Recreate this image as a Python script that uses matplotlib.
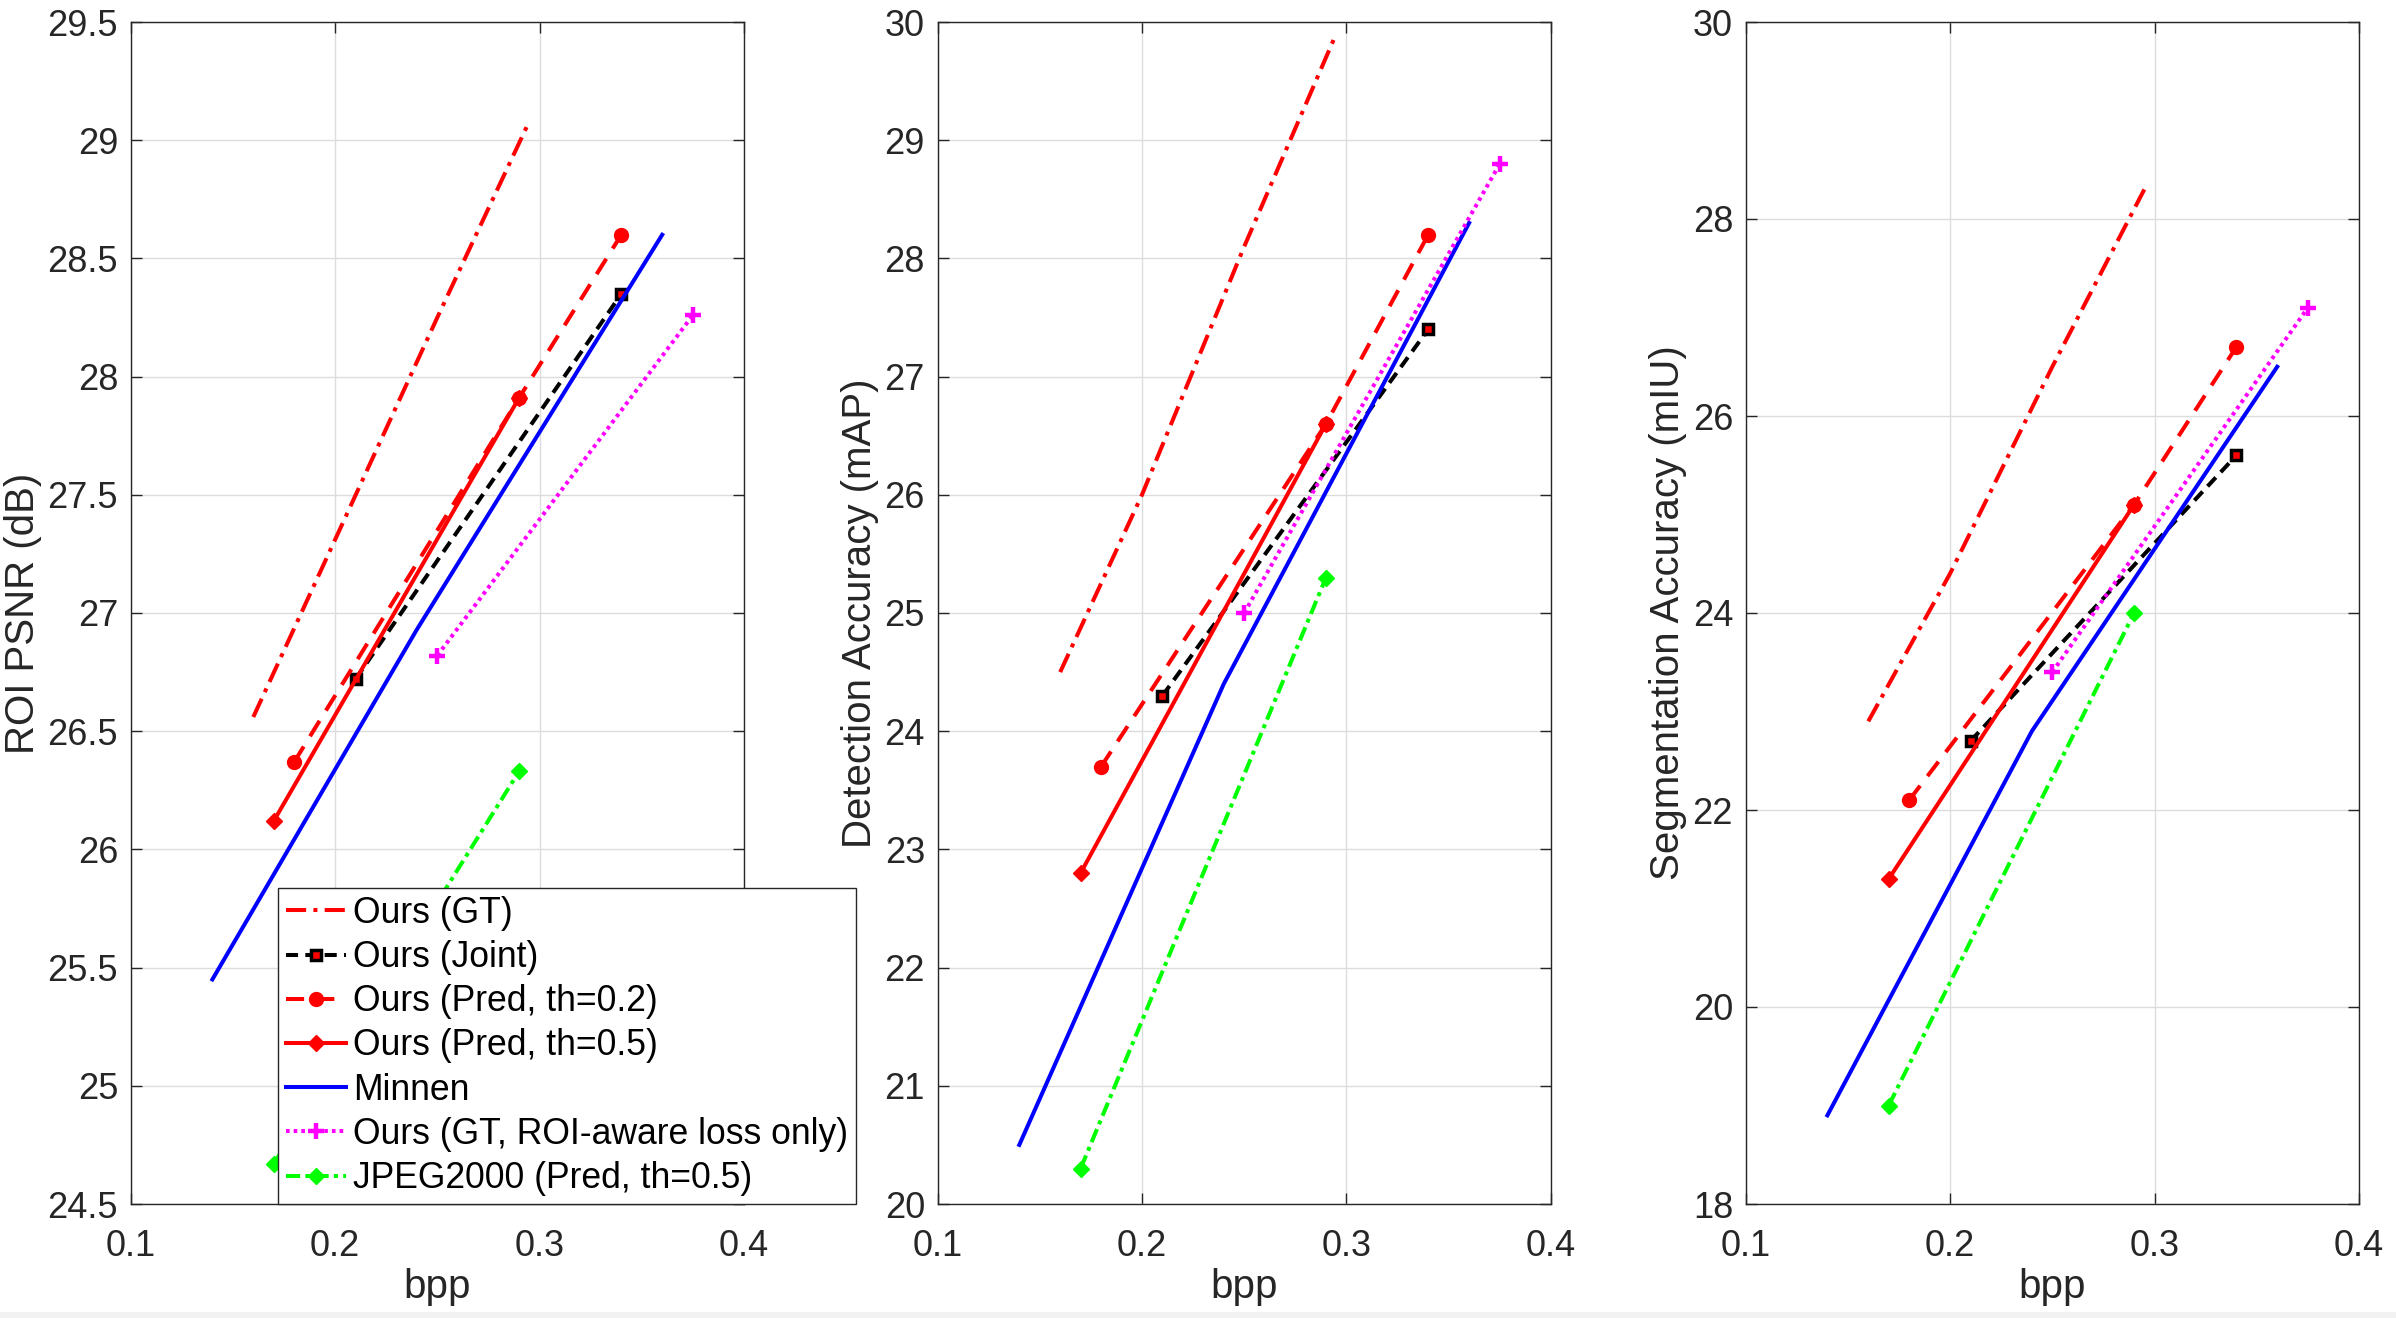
import matplotlib
matplotlib.use("Agg")
import matplotlib.pyplot as plt
from matplotlib.patches import Rectangle

plt.rcParams['font.family'] = ['Liberation Sans', 'DejaVu Sans']

# ---------------- data ----------------
# Panel 1: ROI PSNR (dB)
psnr_gt_x = [0.16, 0.20, 0.25, 0.295]
psnr_gt_y = [26.56, 27.31, 28.25, 29.08]
psnr_joint_x = [0.21, 0.34]
psnr_joint_y = [26.72, 28.35]
psnr_p02_x = [0.18, 0.29, 0.34]
psnr_p02_y = [26.37, 27.91, 28.60]
psnr_p05_x = [0.17, 0.29]
psnr_p05_y = [26.12, 27.91]
psnr_minnen_x = [0.14, 0.24, 0.36]
psnr_minnen_y = [25.45, 26.93, 28.60]
psnr_roi_x = [0.25, 0.375]
psnr_roi_y = [26.82, 28.26]
psnr_jpeg_x = [0.17, 0.29]
psnr_jpeg_y = [24.67, 26.33]

# Panel 2: Detection Accuracy (mAP)
det_gt_x = [0.16, 0.20, 0.25, 0.295]
det_gt_y = [24.50, 26.00, 28.10, 29.90]
det_joint_x = [0.21, 0.34]
det_joint_y = [24.30, 27.40]
det_p02_x = [0.18, 0.29, 0.34]
det_p02_y = [23.70, 26.60, 28.20]
det_p05_x = [0.17, 0.29]
det_p05_y = [22.80, 26.60]
det_minnen_x = [0.14, 0.24, 0.36]
det_minnen_y = [20.50, 24.40, 28.30]
det_roi_x = [0.25, 0.375]
det_roi_y = [25.00, 28.80]
det_jpeg_x = [0.17, 0.29]
det_jpeg_y = [20.30, 25.30]

# Panel 3: Segmentation Accuracy (mIU)
seg_gt_x = [0.16, 0.20, 0.25, 0.295]
seg_gt_y = [22.90, 24.40, 26.50, 28.30]
seg_joint_x = [0.21, 0.34]
seg_joint_y = [22.70, 25.60]
seg_p02_x = [0.18, 0.29, 0.34]
seg_p02_y = [22.10, 25.10, 26.70]
seg_p05_x = [0.17, 0.29]
seg_p05_y = [21.30, 25.10]
seg_minnen_x = [0.14, 0.24, 0.36]
seg_minnen_y = [18.90, 22.80, 26.50]
seg_roi_x = [0.25, 0.375]
seg_roi_y = [23.40, 27.10]
seg_jpeg_x = [0.17, 0.29]
seg_jpeg_y = [19.00, 24.00]

labels = ["Ours (GT)", "Ours (Joint)", "Ours (Pred, th=0.2)", "Ours (Pred, th=0.5)",
          "Minnen", "Ours (GT, ROI-aware loss only)", "JPEG2000 (Pred, th=0.5)"]
ylabels = ["ROI PSNR (dB)", "Detection Accuracy (mAP)", "Segmentation Accuracy (mIU)"]
yticks_list = [[24.5, 25, 25.5, 26, 26.5, 27, 27.5, 28, 28.5, 29, 29.5],
               [20, 21, 22, 23, 24, 25, 26, 27, 28, 29, 30],
               [18, 20, 22, 24, 26, 28, 30]]
yticklabels_list = [["24.5", "25", "25.5", "26", "26.5", "27", "27.5", "28", "28.5", "29", "29.5"],
                    ["20", "21", "22", "23", "24", "25", "26", "27", "28", "29", "30"],
                    ["18", "20", "22", "24", "26", "28", "30"]]
xticks = [0.1, 0.2, 0.3, 0.4]
xticklabels = ["0.1", "0.2", "0.3", "0.4"]

panels = [
    [(psnr_gt_x, psnr_gt_y), (psnr_joint_x, psnr_joint_y), (psnr_p02_x, psnr_p02_y),
     (psnr_p05_x, psnr_p05_y), (psnr_minnen_x, psnr_minnen_y), (psnr_roi_x, psnr_roi_y),
     (psnr_jpeg_x, psnr_jpeg_y)],
    [(det_gt_x, det_gt_y), (det_joint_x, det_joint_y), (det_p02_x, det_p02_y),
     (det_p05_x, det_p05_y), (det_minnen_x, det_minnen_y), (det_roi_x, det_roi_y),
     (det_jpeg_x, det_jpeg_y)],
    [(seg_gt_x, seg_gt_y), (seg_joint_x, seg_joint_y), (seg_p02_x, seg_p02_y),
     (seg_p05_x, seg_p05_y), (seg_minnen_x, seg_minnen_y), (seg_roi_x, seg_roi_y),
     (seg_jpeg_x, seg_jpeg_y)],
]

RED = "#ff0000"
BLUE = "#0000ff"
MAG = "#ff00ff"
GRN = "#00ff00"
LW = 2.9
styles = [
    dict(color=RED, linestyle=(0, (5, 1.8, 1.0, 1.8)), marker=None),
    dict(color="black", linestyle=(0, (3.0, 1.8)), marker="s", markersize=7,
         markerfacecolor=RED, markeredgecolor="black", markeredgewidth=2.5),
    dict(color=RED, linestyle=(0, (4.5, 3.0)), marker="o", markersize=10,
         markerfacecolor=RED, markeredgecolor=RED),
    dict(color=RED, linestyle="-", marker="D", markersize=8.5,
         markerfacecolor=RED, markeredgecolor=RED),
    dict(color=BLUE, linestyle="-", marker=None),
    dict(color=MAG, linestyle=(0, (0.9, 1.0)), marker="+", markersize=12,
         markeredgewidth=3.2),
    dict(color=GRN, linestyle=(0, (3.5, 1.3, 1.0, 1.3)), marker="D", markersize=8.5,
         markerfacecolor=GRN, markeredgecolor=GRN),
]

W, H = 2396, 1318
fig = plt.figure(figsize=(W / 100, H / 100), dpi=100)
fig.patch.set_facecolor("white")

lefts = [130.6 / W, 937.5 / W, 1745.6 / W]
width = 613.4 / W
bottom = 1 - 1204 / H
height = (1204 - 22) / H
ylims = [(24.5, 29.5), (20, 30), (18, 30)]
EDGE = "#262626"

axes = []
for i in range(3):
    ax = fig.add_axes([lefts[i], bottom, width, height])
    handles = []
    for (xs, ys), st in zip(panels[i], styles):
        h, = ax.plot(xs, ys, linewidth=LW, **st)
        handles.append(h)
    ax.set_xlim(0.1, 0.4)
    ax.set_ylim(*ylims[i])
    ax.set_xticks(xticks)
    ax.set_xticklabels(xticklabels)
    ax.set_yticks(yticks_list[i])
    ax.set_yticklabels(yticklabels_list[i])
    ax.grid(True, color="#dcdcdc", linewidth=1.0)
    ax.set_axisbelow(True)
    ax.tick_params(direction="in", length=8, width=1.0, top=True, right=True,
                   labelsize=26, colors=EDGE)
    ax.tick_params(axis="x", pad=18)
    ax.tick_params(axis="y", pad=9)
    for s in ax.spines.values():
        s.set_color(EDGE)
        s.set_linewidth(1.0)
    ax.set_xlabel("bpp", fontsize=29, color=EDGE, labelpad=3)
    ax.set_ylabel(ylabels[i], fontsize=29, color=EDGE, labelpad=4)
    axes.append((ax, handles))

ax0, handles0 = axes[0]
leg = ax0.legend(handles0, labels, loc="lower left",
                 bbox_to_anchor=(0.241, 0.0), fontsize=25.6, frameon=True,
                 fancybox=False, edgecolor=EDGE, framealpha=1.0,
                 handlelength=1.68, handletextpad=0.2, labelspacing=0.26,
                 borderpad=0.22, borderaxespad=0.0)
leg.get_frame().set_linewidth(1.0)
leg.set_zorder(10)

# light strip at the bottom edge of the image
fig.patches.append(Rectangle((0, 0), 1, 6 / H, transform=fig.transFigure,
                             facecolor="#f2f2f2", edgecolor="none", zorder=-1))

fig.savefig("out.png", dpi=100)
